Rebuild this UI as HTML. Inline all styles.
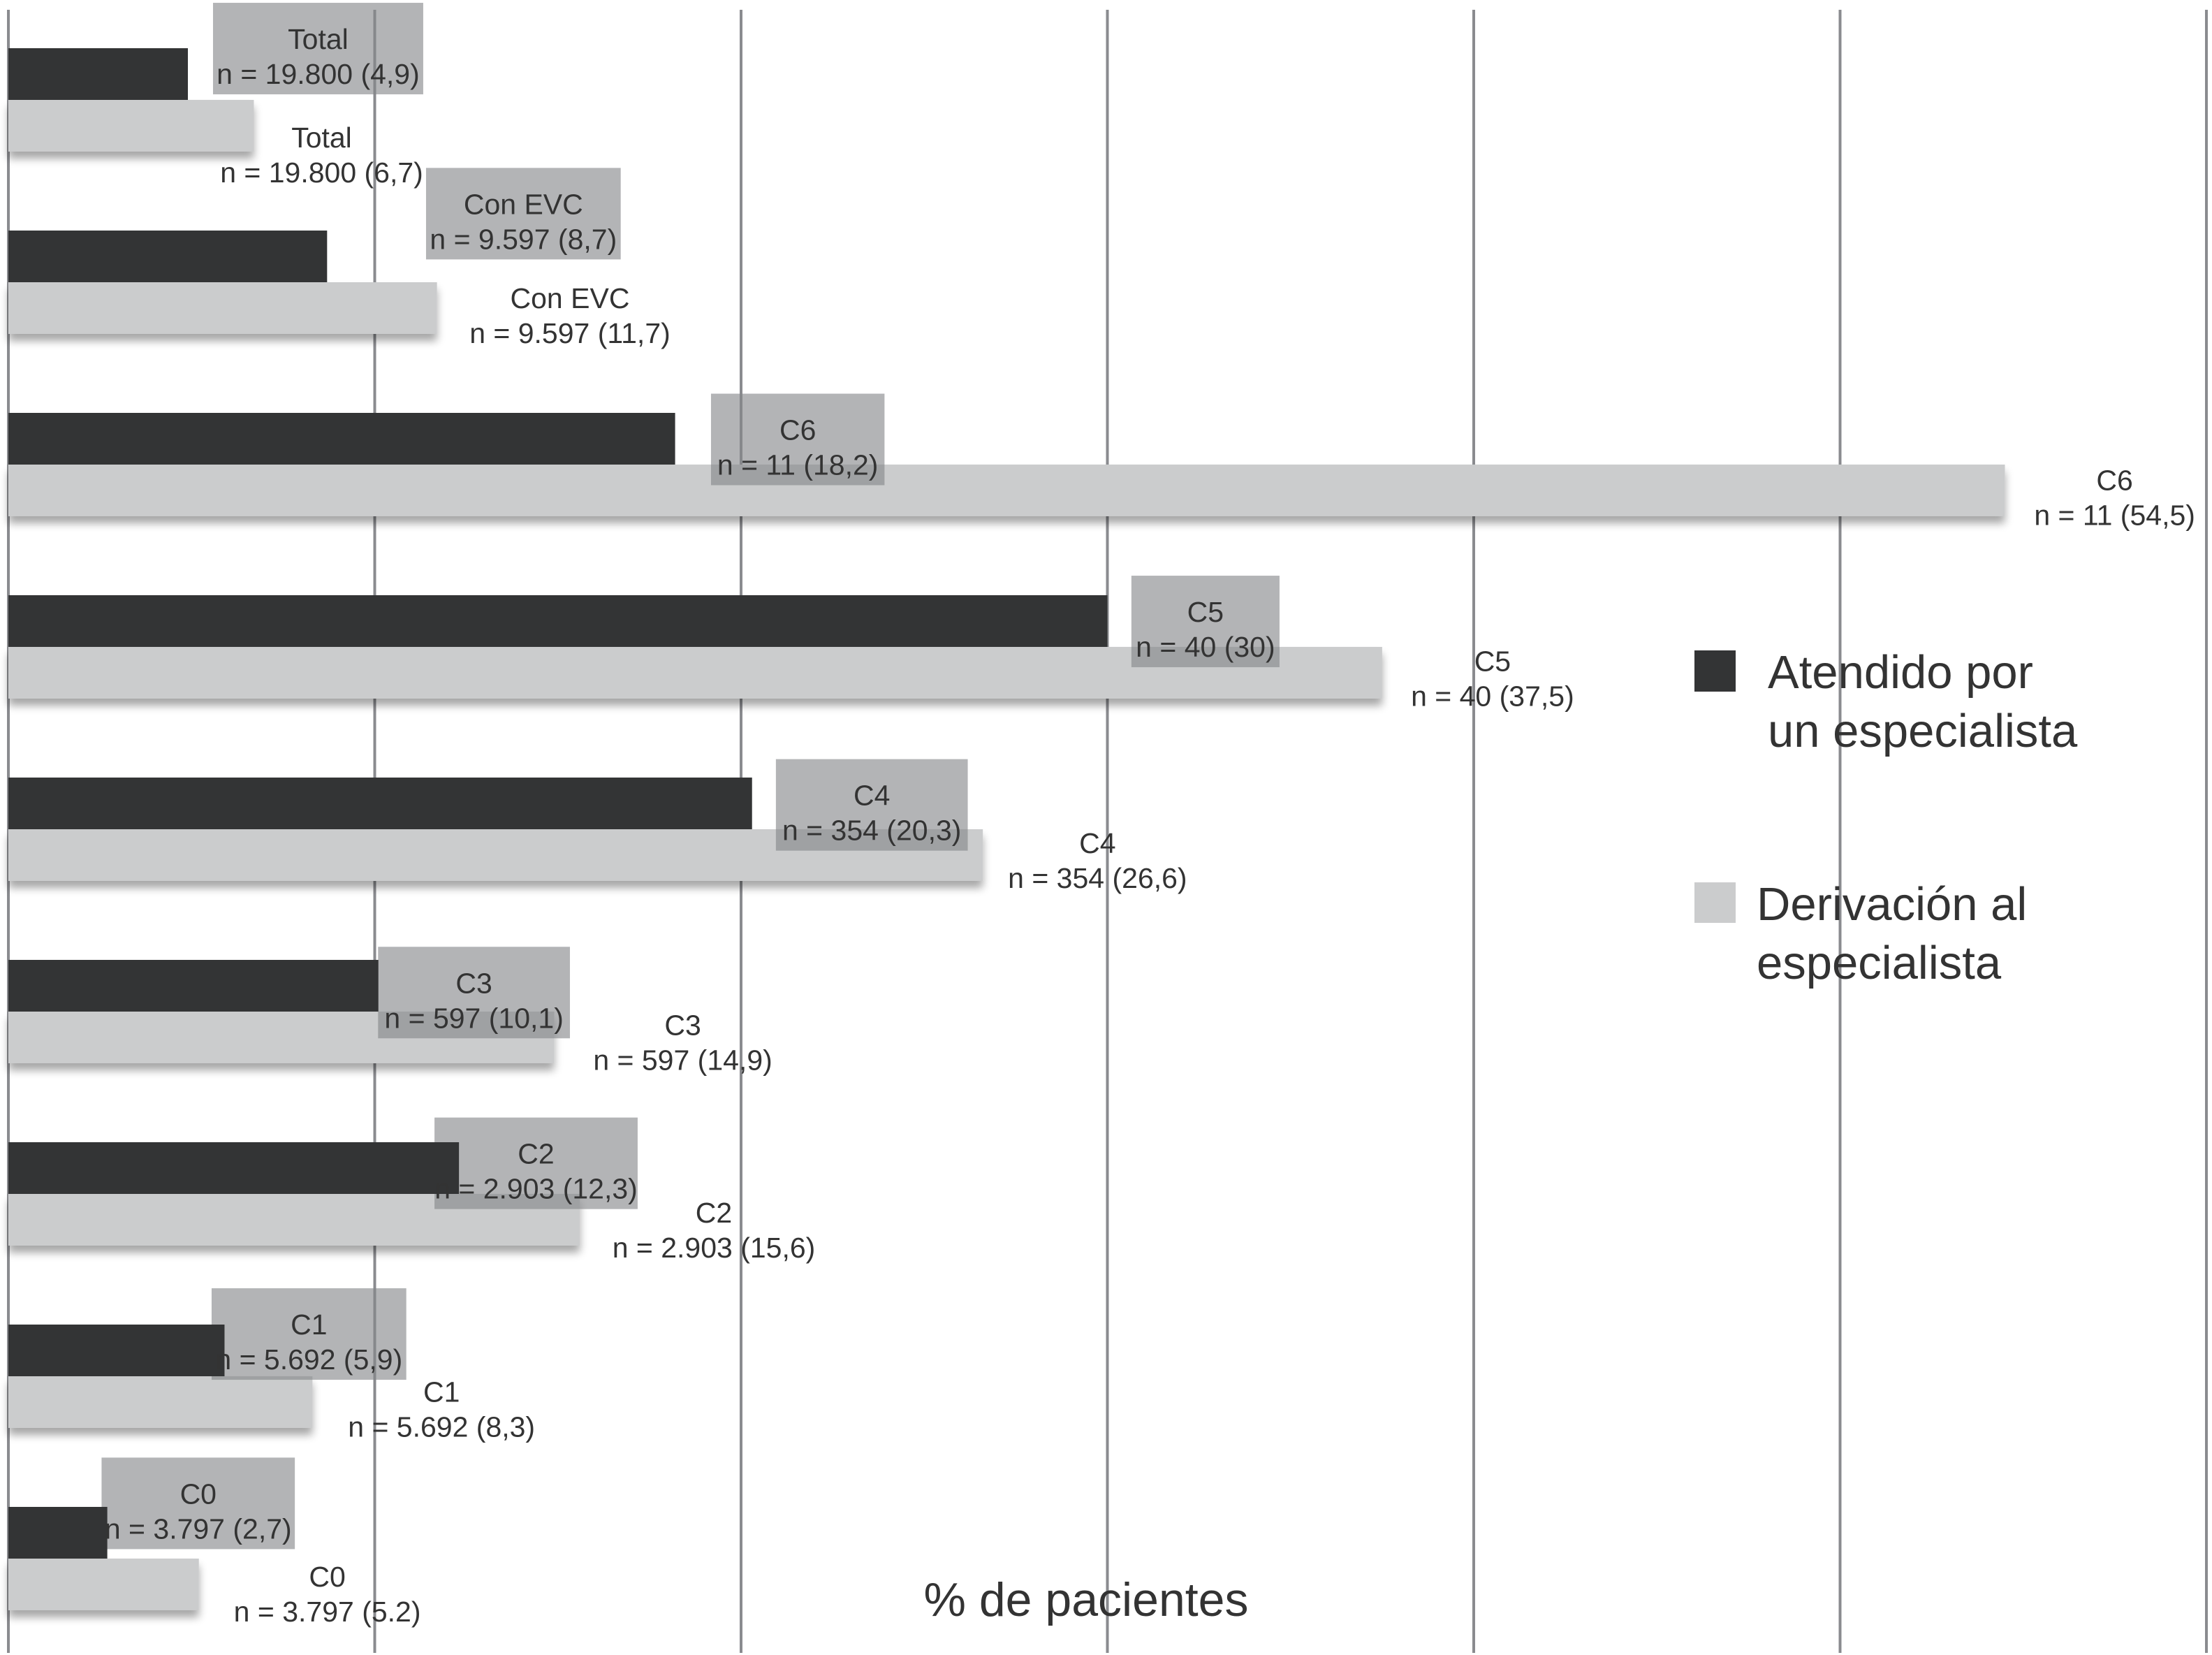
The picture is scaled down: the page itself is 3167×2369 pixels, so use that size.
<!DOCTYPE html>
<html><head><meta charset="utf-8">
<style>
html,body{margin:0;padding:0;background:#fff;}
svg{display:block;}
text{font-family:"Liberation Sans",Arial,sans-serif;fill:#333;}
</style></head>
<body>
<svg id="chart" width="3167" height="2369" viewBox="0 0 3167 2369" xmlns="http://www.w3.org/2000/svg">
<defs>
<filter id="sh" x="-5%" y="-20%" width="110%" height="160%">
<feGaussianBlur in="SourceAlpha" stdDeviation="6"/>
<feOffset dx="0" dy="10"/>
<feComponentTransfer><feFuncA type="linear" slope="0.35"/></feComponentTransfer>
<feMerge><feMergeNode/><feMergeNode in="SourceGraphic"/></feMerge>
</filter>
</defs>
<g id="grid"></g>
<g id="lightbars"></g>
<g id="boxes"></g>
<g id="darkbars"></g>
<g id="labels"></g>
<g id="legend">
<rect x="2426" y="931" width="59" height="59" fill="#333435"/>
<text x="2531" y="985" font-size="67">Atendido por</text>
<text x="2531" y="1069" font-size="67">un especialista</text>
<rect x="2426" y="1263" width="59" height="58" fill="#cbcccd"/>
<text x="2515" y="1317" font-size="67">Derivación al</text>
<text x="2515" y="1401" font-size="67">especialista</text>
</g>
<text x="1555" y="2313" font-size="68" text-anchor="middle">% de pacientes</text>
</svg>
<script>
const categories = ["Total","Con EVC","C6","C5","C4","C3","C2","C1","C0"];
const nLabels = ["19.800","9.597","11","40","354","597","2.903","5.692","3.797"];
const atendido = [4.9, 8.7, 18.2, 30, 20.3, 10.1, 12.3, 5.9, 2.7];
const derivacion = [6.7, 11.7, 54.5, 37.5, 26.6, 14.9, 15.6, 8.3, 5.2];
const atendidoText = ["4,9","8,7","18,2","30","20,3","10,1","12,3","5,9","2,7"];
const derivacionText = ["6,7","11,7","54,5","37,5","26,6","14,9","15,6","8,3","5.2"];
const gridTicks = [0,10,20,30,40,50,60];

// annotation layout (reference display coordinates, scaled by D)
const boxLeft = [151,302,504,802,550,268,308,150,72];
const boxTop = [2,119,279,408,538,671,792,913,1033];
const boxWidth = [149,138,123,105,136,136,144,138,137];
const lightCx = [228,404,1499,1058,778,484,506,313,232];
const lightY = [97,211,340,468,597,726,859,986,1117];

const NS = "http://www.w3.org/2000/svg";
const D = 3167/1568;
const X0 = 12, PX = 52.45;
function xScale(v){ return X0 + v*PX; }
function yGroup(i){ return 69 + i*261; }
const BH = 74;

const grid = document.getElementById('grid');
gridTicks.forEach(function(t){
  const l = document.createElementNS(NS,'line');
  
  
  l.setAttribute('x1', xScale(t)); l.setAttribute('x2', xScale(t));
  l.setAttribute('y1', 14); l.setAttribute('y2', 2366);
  l.setAttribute('stroke', '#8a8b8f'); l.setAttribute('stroke-width', 4);
  grid.appendChild(l);
});

const lightbars = document.getElementById('lightbars');
const darkbars = document.getElementById('darkbars');
const boxes = document.getElementById('boxes');
const labels = document.getElementById('labels');

function addText(parent, cx, y, str, size){
  const t = document.createElementNS(NS,'text');
  
  
  t.setAttribute('x', cx);
  t.setAttribute('y', y);
  t.setAttribute('text-anchor', 'middle');
  t.setAttribute('font-size', size);
  t.textContent = str;
  parent.appendChild(t);
}

categories.forEach(function(c, i){
  const y = yGroup(i);
  const xd = xScale(atendido[i]);
  const xl = xScale(derivacion[i]);
  const rl = document.createElementNS(NS,'rect');
  
  
  rl.setAttribute('x', X0); rl.setAttribute('y', y + BH);
  rl.setAttribute('width', xl - X0); rl.setAttribute('height', BH);
  rl.setAttribute('fill', '#cbcccd'); rl.setAttribute('filter', 'url(#sh)');
  lightbars.appendChild(rl);
  const rd = document.createElementNS(NS,'rect');
  
  
  rd.setAttribute('x', X0); rd.setAttribute('y', y);
  rd.setAttribute('width', xd - X0); rd.setAttribute('height', BH);
  rd.setAttribute('fill', '#333435');
  darkbars.appendChild(rd);

  const bx = boxLeft[i]*D, by = boxTop[i]*D, bw = boxWidth[i]*D, bh = 131;
  const box = document.createElementNS(NS,'rect');
  
  
  box.setAttribute('x', bx); box.setAttribute('y', by);
  box.setAttribute('width', bw); box.setAttribute('height', bh);
  box.setAttribute('fill', 'rgba(133,134,137,0.62)');
  boxes.appendChild(box);
  addText(labels, bx + bw/2, by + 66, c, 41);
  addText(labels, bx + bw/2, by + 116, 'n = ' + nLabels[i] + ' (' + atendidoText[i] + ')', 41);

  const lx = lightCx[i]*D, ly = lightY[i]*D + 15;
  addText(labels, lx, ly, c, 41);
  addText(labels, lx, ly + 50, 'n = ' + nLabels[i] + ' (' + derivacionText[i] + ')', 41);
});
</script>
</body></html>
